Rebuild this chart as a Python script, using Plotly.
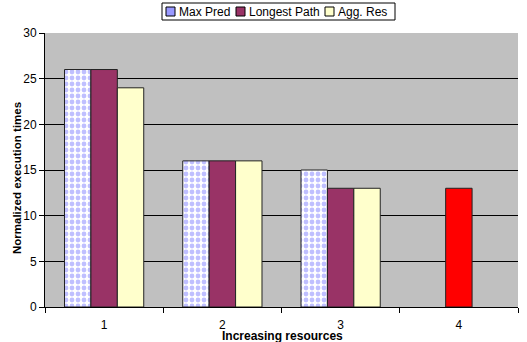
import plotly.graph_objects as go

categories = ["1", "2", "3", "4"]
max_pred = [26, 16, 15, None]
longest_path = [26, 16, 13, 13]
agg_res = [24, 16, 13, None]
longest_colors = ["#993366", "#993366", "#993366", "#FF0000"]
y_ticks = [0, 5, 10, 15, 20, 25, 30]
series_names = ["Max Pred", "Longest Path", "Agg. Res"]
series_colors = ["#9999FF", "#993366", "#FFFFCC"]

font = "Liberation Sans, Arial, sans-serif"
line = dict(color="#222222", width=1)

# page pixel -> paper coords
PL, PR, PT, PB = 45, 518, 33, 307
def px(x):
    return (x - PL) / (PR - PL)
def py(y):
    return (PB - y) / (PB - PT)

fig = go.Figure()
fig.add_trace(go.Bar(
    name=series_names[0], x=categories, y=max_pred,
    marker=dict(color="white", line=line,
                pattern=dict(shape=".", fgcolor="#8080FF", bgcolor="white",
                             size=6, solidity=0.5)),
))
fig.add_trace(go.Bar(
    name=series_names[1], x=categories, y=longest_path,
    marker=dict(color=longest_colors, line=line),
))
fig.add_trace(go.Bar(
    name=series_names[2], x=categories, y=agg_res,
    marker=dict(color="#FFFFCC", line=line),
))

shapes = [dict(type="rect", xref="paper", yref="paper",
               x0=px(162), x1=px(395), y0=py(20), y1=py(3),
               line=dict(color="black", width=1), fillcolor="white")]
annotations = []
sw_x = [166, 236, 325]
tx_x = [177, 247, 336]
for name, col, sx, tx in zip(series_names, series_colors, sw_x, tx_x):
    shapes.append(dict(type="rect", xref="paper", yref="paper",
                       x0=px(sx), x1=px(sx + 9), y0=py(16), y1=py(7),
                       line=dict(color="black", width=1), fillcolor=col))
    annotations.append(dict(text=name, xref="paper", yref="paper",
                            x=px(tx), y=py(11.5), xanchor="left",
                            yanchor="middle", showarrow=False,
                            font=dict(size=12)))

annotations += [
    dict(text="<b>Normalized execution times</b>", textangle=-90,
         xref="paper", yref="paper", x=px(17), y=py(178),
         xanchor="center", yanchor="middle", showarrow=False,
         font=dict(size=11.5)),
    dict(text="<b>Increasing resources</b>", xref="paper", yref="paper",
         x=px(282), y=py(335.5), xanchor="center",
         yanchor="middle", showarrow=False, font=dict(size=12)),
]

fig.update_layout(
    width=527, height=342,
    margin=dict(l=45, r=9, t=33, b=35, autoexpand=False),
    paper_bgcolor="white", plot_bgcolor="#C0C0C0",
    barmode="group", bargap=0.33, bargroupgap=0,
    font=dict(family=font, size=12, color="black"),
    showlegend=False,
    xaxis=dict(type="category", tickson="boundaries", ticks="outside",
               ticklen=5, tickcolor="black", showline=True, linecolor="black",
               showgrid=False, tickfont=dict(size=12), ticklabelstandoff=7),
    yaxis=dict(range=[0, 30], tickvals=y_ticks, ticks="outside", ticklen=5,
               tickcolor="black", showline=True, linecolor="black",
               gridcolor="black", gridwidth=1, zeroline=False,
               tickfont=dict(size=12)),
    shapes=shapes,
    annotations=annotations,
)

fig.write_html("out.html", config={"displayModeBar": False},
               post_script="document.body.style.margin='0px';document.body.style.overflow='hidden';")
